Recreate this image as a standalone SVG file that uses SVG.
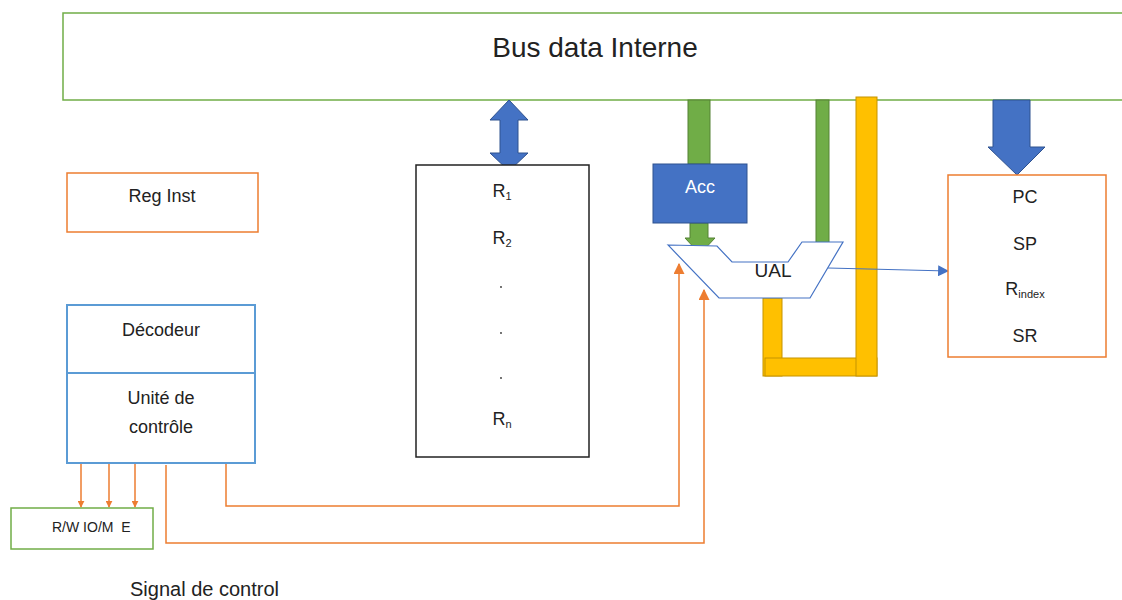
<svg xmlns="http://www.w3.org/2000/svg" width="1122" height="600" viewBox="0 0 1122 600">
  <defs>
    <style>
      text { font-family: "Liberation Sans", Arial, sans-serif; fill: #222; }
      .c { text-anchor: middle; }
      .lbl { font-size: 18px; }
      .sub { font-size: 11px; }
      .green-box { fill: #fff; stroke: #70AD47; stroke-width: 1.5; }
      .orange-box { fill: #fff; stroke: #ED7D31; stroke-width: 1.5; }
      .blue-box { fill: #fff; stroke: #5B9BD5; stroke-width: 2; }
      .black-box { fill: #fff; stroke: #222; stroke-width: 1.5; }
      .bus-green { fill: #70AD47; stroke: #548235; stroke-width: 1; }
      .bus-yellow { fill: #FFC000; stroke: #C59300; stroke-width: 1; }
      .bus-blue { fill: #4472C4; stroke: #2F528F; stroke-width: 1; }
      .ctrl { fill: none; stroke: #ED7D31; stroke-width: 1.5; }
      .data { fill: none; stroke: #4472C4; stroke-width: 1.2; }
    </style>
    <marker id="arrOrange" viewBox="0 0 10 10" refX="9" refY="5" markerWidth="7" markerHeight="7" markerUnits="userSpaceOnUse" orient="auto">
      <path d="M0,0 L10,5 L0,10 z" fill="#ED7D31"/>
    </marker>
    <marker id="arrOrangeS" viewBox="0 0 10 10" refX="9" refY="5" markerWidth="11" markerHeight="11" markerUnits="userSpaceOnUse" orient="auto">
      <path d="M0,0 L10,5 L0,10 z" fill="#ED7D31"/>
    </marker>
    <marker id="arrBlue" viewBox="0 0 10 10" refX="9" refY="5" markerWidth="11" markerHeight="11" markerUnits="userSpaceOnUse" orient="auto">
      <path d="M0,0 L10,5 L0,10 z" fill="#4472C4"/>
    </marker>
  </defs>

  <rect width="1122" height="600" fill="#fff"/>

  <!-- internal data bus -->
  <g id="bus">
    <rect class="green-box" x="63" y="13" width="1070" height="87"/>
    <text class="c" x="595" y="57" font-size="28">Bus data Interne</text>
  </g>

  <!-- bus links and signals -->
  <g id="connectors">
    <!-- bus <-> register file -->
    <path class="bus-blue" d="M509,100 L528,120 L518,120 L518,153 L528,153 L509,171 L490,153 L500,153 L500,120 L490,120 Z"/>
    <!-- bus -> Acc -->
    <rect class="bus-green" x="688" y="100" width="22" height="64"/>
    <!-- Acc -> UAL -->
    <path class="bus-green" d="M690,223 L708,223 L708,238 L715,238 L700,254 L685,238 L690,238 Z"/>
    <!-- bus -> UAL second operand -->
    <rect class="bus-green" x="816" y="100" width="13" height="143"/>
    <!-- UAL result loop back to bus -->
    <rect class="bus-yellow" x="763" y="298" width="19" height="78"/>
    <rect class="bus-yellow" x="765" y="358" width="112" height="18"/>
    <rect class="bus-yellow" x="856" y="97" width="21" height="279"/>
    <!-- bus -> pointer registers -->
    <path class="bus-blue" d="M993,100 L1030,100 L1030,147 L1045,147 L1017,175 L988,147 L993,147 Z"/>
    <!-- UAL -> status -->
    <line class="data" x1="828" y1="268" x2="948" y2="271" marker-end="url(#arrBlue)"/>
    <!-- control unit -> R/W IO/M E -->
    <line class="ctrl" x1="81" y1="463" x2="81" y2="507" marker-end="url(#arrOrange)"/>
    <line class="ctrl" x1="109" y1="463" x2="109" y2="507" marker-end="url(#arrOrange)"/>
    <line class="ctrl" x1="135" y1="463" x2="135" y2="507" marker-end="url(#arrOrange)"/>
    <!-- control unit -> UAL -->
    <polyline class="ctrl" points="226,463 226,506 679,506 679,264" marker-end="url(#arrOrangeS)"/>
    <polyline class="ctrl" points="166,465 166,543 704,543 704,290" marker-end="url(#arrOrangeS)"/>
  </g>

  <g id="reg-inst">
    <rect class="orange-box" x="67" y="173" width="191" height="59"/>
    <text class="c lbl" x="162" y="202">Reg Inst</text>
  </g>

  <g id="control-unit">
    <rect class="blue-box" x="67" y="305" width="188" height="158"/>
    <line x1="67" y1="373" x2="255" y2="373" stroke="#5B9BD5" stroke-width="2"/>
    <text class="c lbl" x="161" y="336">Décodeur</text>
    <text class="c lbl" x="161" y="404">Unité de</text>
    <text class="c lbl" x="161" y="433">contrôle</text>
  </g>

  <g id="control-signals">
    <rect class="green-box" x="11" y="508" width="142" height="41"/>
    <text x="52" y="532" font-size="14" xml:space="preserve">R/W IO/M  E</text>
  </g>

  <text x="130" y="596" font-size="20">Signal de control</text>

  <g id="register-file">
    <rect class="black-box" x="416" y="165" width="173" height="292"/>
    <text class="c lbl" x="502" y="197">R<tspan class="sub" dy="3">1</tspan></text>
    <text class="c lbl" x="502" y="244">R<tspan class="sub" dy="3">2</tspan></text>
    <circle cx="501" cy="287" r="0.9" fill="#333"/>
    <circle cx="501" cy="333" r="0.9" fill="#333"/>
    <circle cx="501" cy="378" r="0.9" fill="#333"/>
    <text class="c lbl" x="502" y="425">R<tspan class="sub" dy="3">n</tspan></text>
  </g>

  <g id="acc">
    <rect class="bus-blue" x="653" y="164" width="94" height="59"/>
    <text class="c lbl" x="700" y="193" style="fill:#fff">Acc</text>
  </g>

  <g id="ual">
    <polygon points="668,245 717,246 732,262 788,262 802,242 843,242 810,298 719,298" fill="#fff" stroke="#4472C4" stroke-width="1.2"/>
    <text class="c" x="773" y="277" font-size="19">UAL</text>
  </g>

  <g id="pointer-registers">
    <rect class="orange-box" x="948" y="175" width="158" height="182"/>
    <text class="c lbl" x="1025" y="203">PC</text>
    <text class="c lbl" x="1025" y="250">SP</text>
    <text class="c lbl" x="1025" y="295">R<tspan class="sub" dy="3">index</tspan></text>
    <text class="c lbl" x="1025" y="342">SR</text>
  </g>
</svg>
